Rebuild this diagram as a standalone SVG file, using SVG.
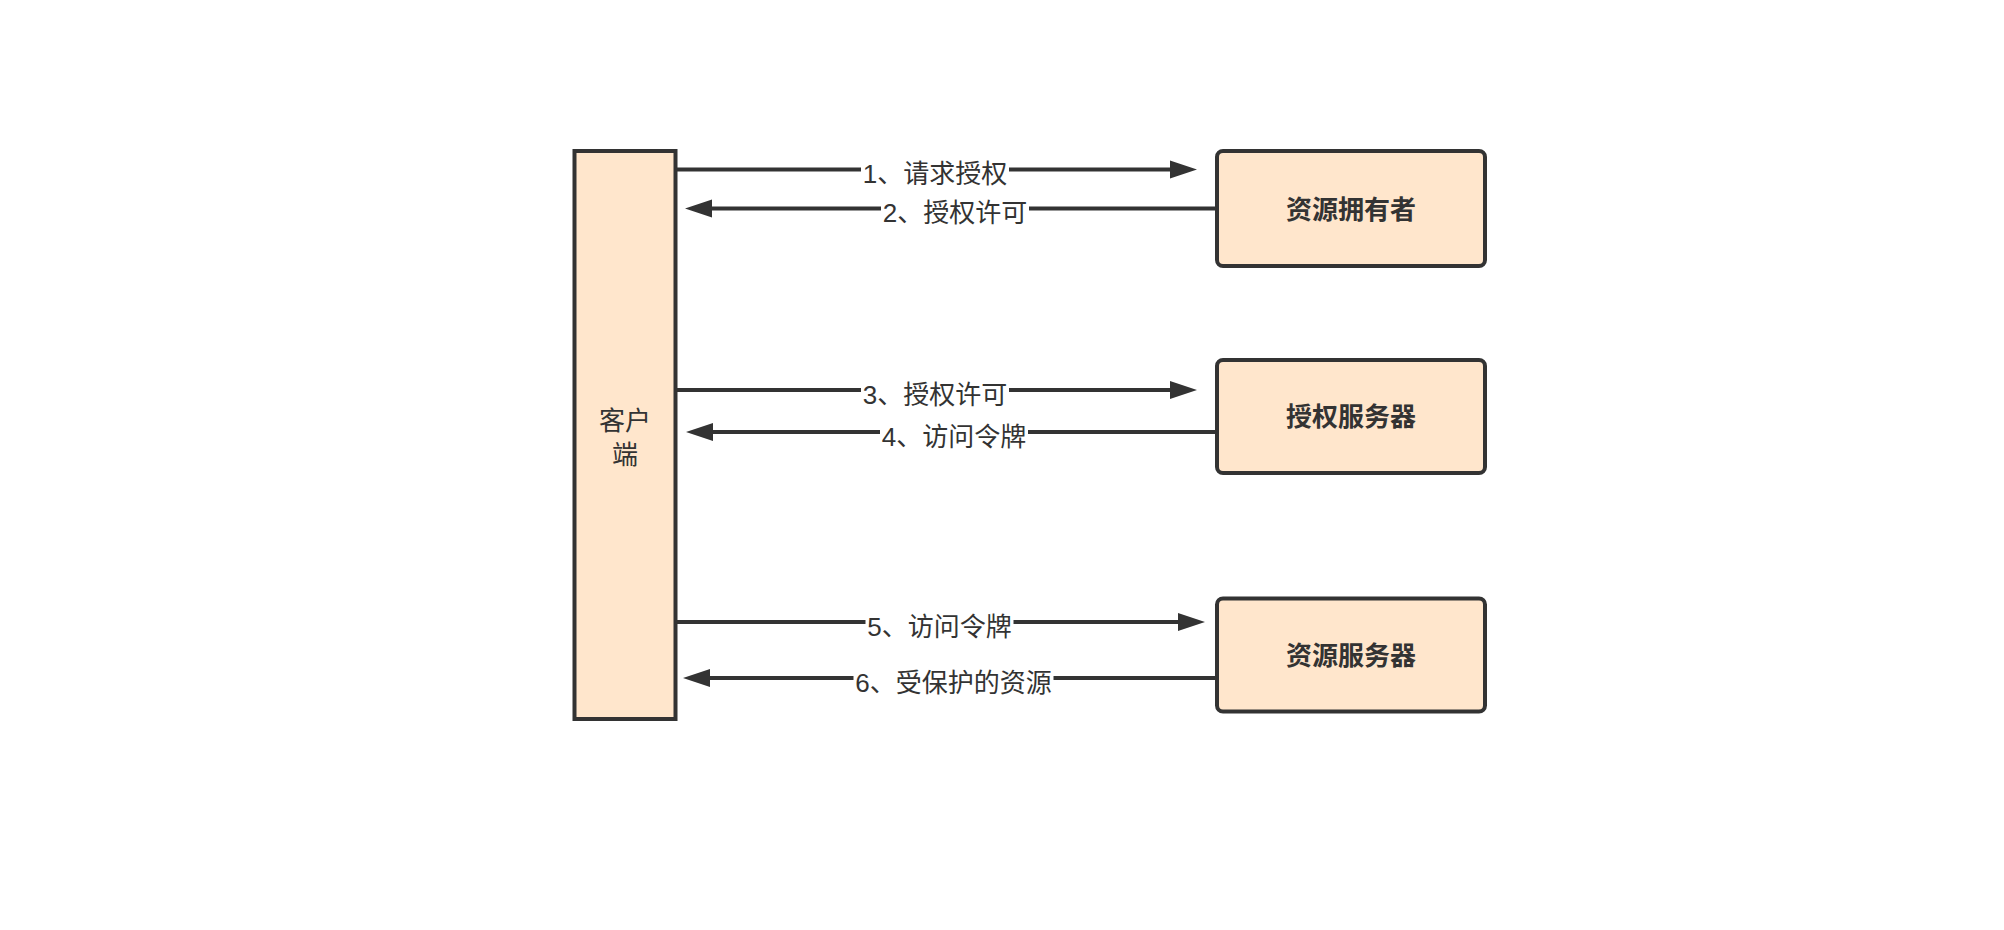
<svg xmlns="http://www.w3.org/2000/svg" width="2004" height="930" viewBox="0 0 2004 930">
<style>
.node{fill:#FFE6CC;stroke:#333333;stroke-width:4}
.ntext{font-family:"Liberation Sans","Noto Sans CJK SC",sans-serif;font-size:26px;fill:#333333;text-anchor:middle}
.bold{font-weight:bold}
.edge{stroke:#333333;stroke-width:4;fill:none}
.lbg{fill:#FFFFFF}
.ltext{font-family:"Liberation Sans","Noto Sans CJK SC",sans-serif;font-size:26px;fill:#333333;text-anchor:middle}
</style>
<defs>
<marker id="arrow" markerUnits="userSpaceOnUse" markerWidth="28" markerHeight="20" refX="0" refY="9" orient="auto" viewBox="0 0 28 18">
<path d="M0,0 L27,9 L0,18 Z" fill="#333333"/>
</marker>
</defs>
<rect width="2004" height="930" fill="#FFFFFF"/>
<g id="client">
<rect class="node" x="574.5" y="151" width="101" height="568"/>
<text class="ntext" x="625" y="430">客户</text>
<text class="ntext" x="625" y="464">端</text>
</g>
<g id="resource-owner">
<rect class="node" x="1217" y="151" width="268" height="115" rx="6" ry="6"/>
<text class="ntext bold" x="1351" y="219">资源拥有者</text>
</g>
<g id="auth-server">
<rect class="node" x="1217" y="360" width="268" height="113" rx="6" ry="6"/>
<text class="ntext bold" x="1351" y="426">授权服务器</text>
</g>
<g id="resource-server">
<rect class="node" x="1217" y="598.5" width="268" height="113" rx="6" ry="6"/>
<text class="ntext bold" x="1351" y="665">资源服务器</text>
</g>
<g id="connectors">
<g id="e1">
<line class="edge" x1="676" y1="169.5" x2="1170" y2="169.5" marker-end="url(#arrow)"/>
<rect class="lbg" x="861" y="158" width="148" height="22"/>
<text class="ltext" x="935" y="183">1、请求授权</text>
</g>
<g id="e2">
<line class="edge" x1="1215" y1="208.5" x2="712" y2="208.5" marker-end="url(#arrow)"/>
<rect class="lbg" x="881" y="197" width="148" height="22"/>
<text class="ltext" x="955" y="222">2、授权许可</text>
</g>
<g id="e3">
<line class="edge" x1="676" y1="390" x2="1170" y2="390" marker-end="url(#arrow)"/>
<rect class="lbg" x="861" y="379" width="148" height="22"/>
<text class="ltext" x="935" y="404">3、授权许可</text>
</g>
<g id="e4">
<line class="edge" x1="1215" y1="432" x2="713" y2="432" marker-end="url(#arrow)"/>
<rect class="lbg" x="880" y="421" width="148" height="22"/>
<text class="ltext" x="954" y="446">4、访问令牌</text>
</g>
<g id="e5">
<line class="edge" x1="676" y1="622" x2="1178" y2="622" marker-end="url(#arrow)"/>
<rect class="lbg" x="865.5" y="611" width="148" height="22"/>
<text class="ltext" x="939.5" y="636">5、访问令牌</text>
</g>
<g id="e6">
<line class="edge" x1="1215" y1="678" x2="710" y2="678" marker-end="url(#arrow)"/>
<rect class="lbg" x="853.5" y="667" width="200" height="22"/>
<text class="ltext" x="953.5" y="692">6、受保护的资源</text>
</g>
</g>
</svg>
